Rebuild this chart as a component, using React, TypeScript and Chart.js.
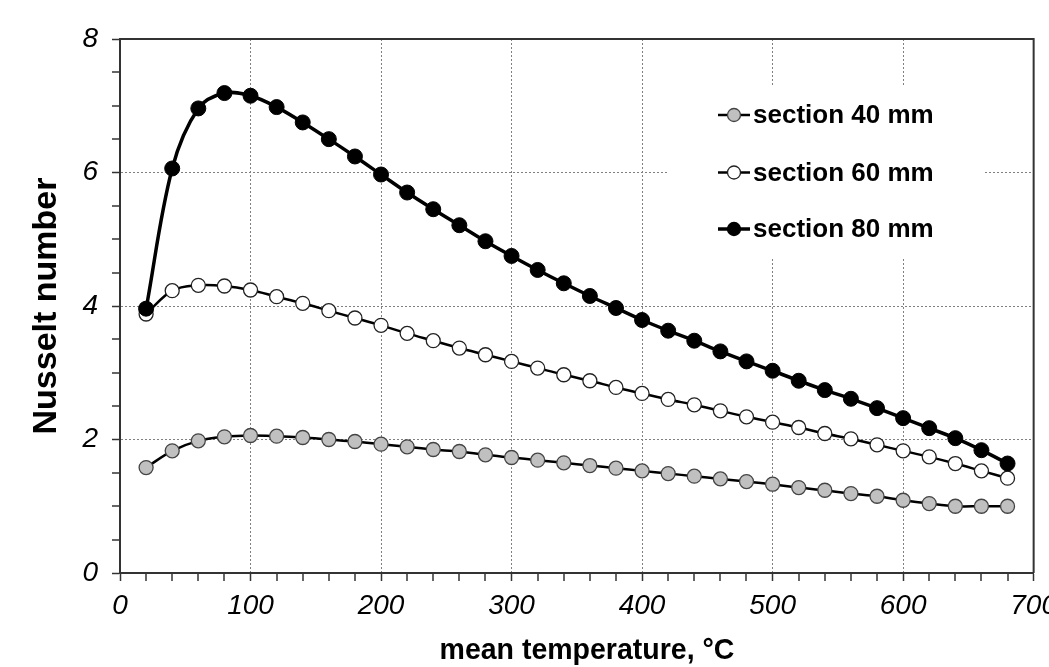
import React, { useEffect, useRef } from 'react';
import { Chart, registerables } from 'chart.js';

Chart.register(...registerables);

const temperatures = [20, 40, 60, 80, 100, 120, 140, 160, 180, 200, 220, 240, 260, 280, 300, 320, 340, 360, 380, 400, 420, 440, 460, 480, 500, 520, 540, 560, 580, 600, 620, 640, 660, 680];

const section40 = [1.58, 1.83, 1.98, 2.04, 2.06, 2.05, 2.03, 2.0, 1.97, 1.93, 1.89, 1.85, 1.82, 1.77, 1.73, 1.69, 1.65, 1.61, 1.57, 1.53, 1.49, 1.45, 1.41, 1.37, 1.33, 1.28, 1.24, 1.19, 1.15, 1.09, 1.04, 1.0, 1.0, 1.0];

const section60 = [3.88, 4.23, 4.31, 4.3, 4.24, 4.14, 4.04, 3.93, 3.82, 3.71, 3.59, 3.48, 3.37, 3.27, 3.17, 3.07, 2.97, 2.88, 2.78, 2.69, 2.6, 2.52, 2.43, 2.34, 2.26, 2.18, 2.09, 2.01, 1.92, 1.83, 1.74, 1.64, 1.53, 1.42];

const section80 = [3.96, 6.06, 6.96, 7.19, 7.15, 6.98, 6.75, 6.5, 6.24, 5.97, 5.7, 5.45, 5.21, 4.97, 4.75, 4.54, 4.34, 4.15, 3.97, 3.79, 3.63, 3.48, 3.32, 3.17, 3.03, 2.88, 2.74, 2.61, 2.47, 2.32, 2.17, 2.02, 1.84, 1.64];

const seriesLabels = ['section 40 mm', 'section 60 mm', 'section 80 mm'];
const xMajorTicks = [0, 100, 200, 300, 400, 500, 600, 700];
const yMajorTicks = [0, 2, 4, 6, 8];

const xTitle = 'mean temperature, °C';
const yTitle = 'Nusselt number';

const FONT = '"Liberation Sans", Arial, Helvetica, sans-serif';

const toPoints = (ys: number[]) => ys.map((y, i) => ({ x: temperatures[i], y }));

const framePlugin = {
  id: 'frame',
  beforeDatasetsDraw(chart: any) {
    const { ctx, chartArea } = chart;
    ctx.save();
    ctx.strokeStyle = '#333';
    ctx.lineWidth = 2;
    ctx.beginPath();
    ctx.moveTo(chartArea.left, chartArea.top);
    ctx.lineTo(chartArea.right, chartArea.top);
    ctx.lineTo(chartArea.right, chartArea.bottom);
    ctx.stroke();
    ctx.restore();
  },
};

const xTitlePlugin = {
  id: 'xTitle',
  afterDraw(chart: any) {
    const { ctx } = chart;
    ctx.save();
    ctx.translate(587, 651);
    ctx.scale(0.95, 1);
    ctx.fillStyle = '#000';
    ctx.font = `bold 30px ${FONT}`;
    ctx.textAlign = 'center';
    ctx.textBaseline = 'middle';
    ctx.fillText(xTitle, 0, 0);
    ctx.restore();
  },
};

const legendPlugin = {
  id: 'boxLegend',
  afterDatasetsDraw(chart: any) {
    const { ctx } = chart;
    const boxLeft = 668, boxTop = 85, boxRight = 985, boxBottom = 257;
    ctx.save();
    ctx.fillStyle = '#ffffff';
    ctx.fillRect(boxLeft, boxTop, boxRight - boxLeft, boxBottom - boxTop);
    const rows = [115, 172.5, 229];
    const order = [2, 1, 0];
    order.forEach((di, r) => {
      const ds = chart.data.datasets[di];
      const y = rows[r];
      ctx.strokeStyle = '#000';
      ctx.lineWidth = ds.borderWidth;
      ctx.beginPath();
      ctx.moveTo(718, y);
      ctx.lineTo(750, y);
      ctx.stroke();
      ctx.beginPath();
      ctx.arc(734, y, 6.5, 0, Math.PI * 2);
      ctx.fillStyle = ds.pointBackgroundColor;
      ctx.fill();
      ctx.lineWidth = 1.3;
      ctx.strokeStyle = ds.pointBorderColor;
      ctx.stroke();
      ctx.fillStyle = '#000';
      ctx.font = `bold 26px ${FONT}`;
      ctx.textBaseline = 'middle';
      ctx.textAlign = 'left';
      ctx.fillText(ds.label, 753, y + 1);
    });
    ctx.restore();
  },
};

export default function App() {
  const canvasRef = useRef<HTMLCanvasElement | null>(null);

  useEffect(() => {
    const canvas = canvasRef.current;
    if (!canvas) return;
    const chart = new Chart(canvas, {
      type: 'line',
      data: {
        datasets: [
          {
            label: seriesLabels[2],
            data: toPoints(section80),
            borderColor: '#000',
            borderWidth: 3.5,
            pointBackgroundColor: '#000',
            pointBorderColor: '#000',
            pointBorderWidth: 1,
            pointRadius: 7.5,
            tension: 0.35,
          },
          {
            label: seriesLabels[1],
            data: toPoints(section60),
            borderColor: '#000',
            borderWidth: 2.5,
            pointBackgroundColor: '#ffffff',
            pointBorderColor: '#222',
            pointBorderWidth: 1.3,
            pointRadius: 7,
            tension: 0.35,
          },
          {
            label: seriesLabels[0],
            data: toPoints(section40),
            borderColor: '#000',
            borderWidth: 2.5,
            pointBackgroundColor: '#c0c0c0',
            pointBorderColor: '#444',
            pointBorderWidth: 1.3,
            pointRadius: 7,
            tension: 0.35,
          },
        ],
      },
      options: {
        responsive: false,
        animation: false,
        devicePixelRatio: 1,
        layout: { padding: { top: 39, right: 30, left: 0, bottom: 0 } },
        plugins: {
          legend: { display: false },
          tooltip: { enabled: false },
        },
        scales: {
          x: {
            type: 'linear',
            min: 0,
            max: 700,
            afterFit: (scale: any) => {
              scale.height = 94;
            },
            ticks: {
              stepSize: 20,
              autoSkip: false,
              maxRotation: 0,
              maxTicksLimit: 100,
              padding: 8,
              color: '#000',
              font: { family: FONT, size: 28, style: 'italic' },
              callback: (v: any) => (xMajorTicks.includes(Number(v)) ? String(v) : ''),
            },
            grid: {
              color: (c: any) => (c.tick && xMajorTicks.includes(c.tick.value) ? '#808080' : 'transparent'),
              lineWidth: (c: any) => (c.tick && xMajorTicks.includes(c.tick.value) ? 1 : 0),
              tickColor: '#333',
              tickLength: 8,
              tickWidth: 1.5,
              drawTicks: true,
            },
            border: { display: true, color: '#333', width: 2, dash: [2, 2] },
            title: { display: false },
          },
          y: {
            type: 'linear',
            min: 0,
            max: 8,
            afterFit: (scale: any) => {
              scale.width = 120;
            },
            ticks: {
              stepSize: 0.5,
              autoSkip: false,
              maxTicksLimit: 100,
              padding: 14,
              color: '#000',
              font: { family: FONT, size: 28, style: 'italic' },
              callback: (v: any) => (yMajorTicks.includes(Number(v)) ? String(v) : ''),
            },
            grid: {
              color: (c: any) => (c.tick && yMajorTicks.includes(c.tick.value) ? '#808080' : 'transparent'),
              lineWidth: (c: any) => (c.tick && yMajorTicks.includes(c.tick.value) ? 1 : 0),
              tickColor: '#333',
              tickLength: 8,
              tickWidth: 1.5,
              drawTicks: true,
            },
            border: { display: true, color: '#333', width: 2, dash: [2, 2] },
            title: {
              display: true,
              text: yTitle,
              color: '#000',
              font: { family: FONT, size: 34, weight: 'bold' },
              padding: { top: 26, bottom: 0 },
            },
          },
        },
      },
      plugins: [framePlugin, legendPlugin, xTitlePlugin],
    } as any);
    return () => chart.destroy();
  }, []);

  return (
    <div
      style={{
        position: 'absolute',
        left: 0,
        top: 0,
        width: 1049,
        height: 667,
        overflow: 'hidden',
        background: '#fff',
      }}
    >
      <canvas ref={canvasRef} width={1065} height={667} style={{ display: 'block' }} />
    </div>
  );
}
